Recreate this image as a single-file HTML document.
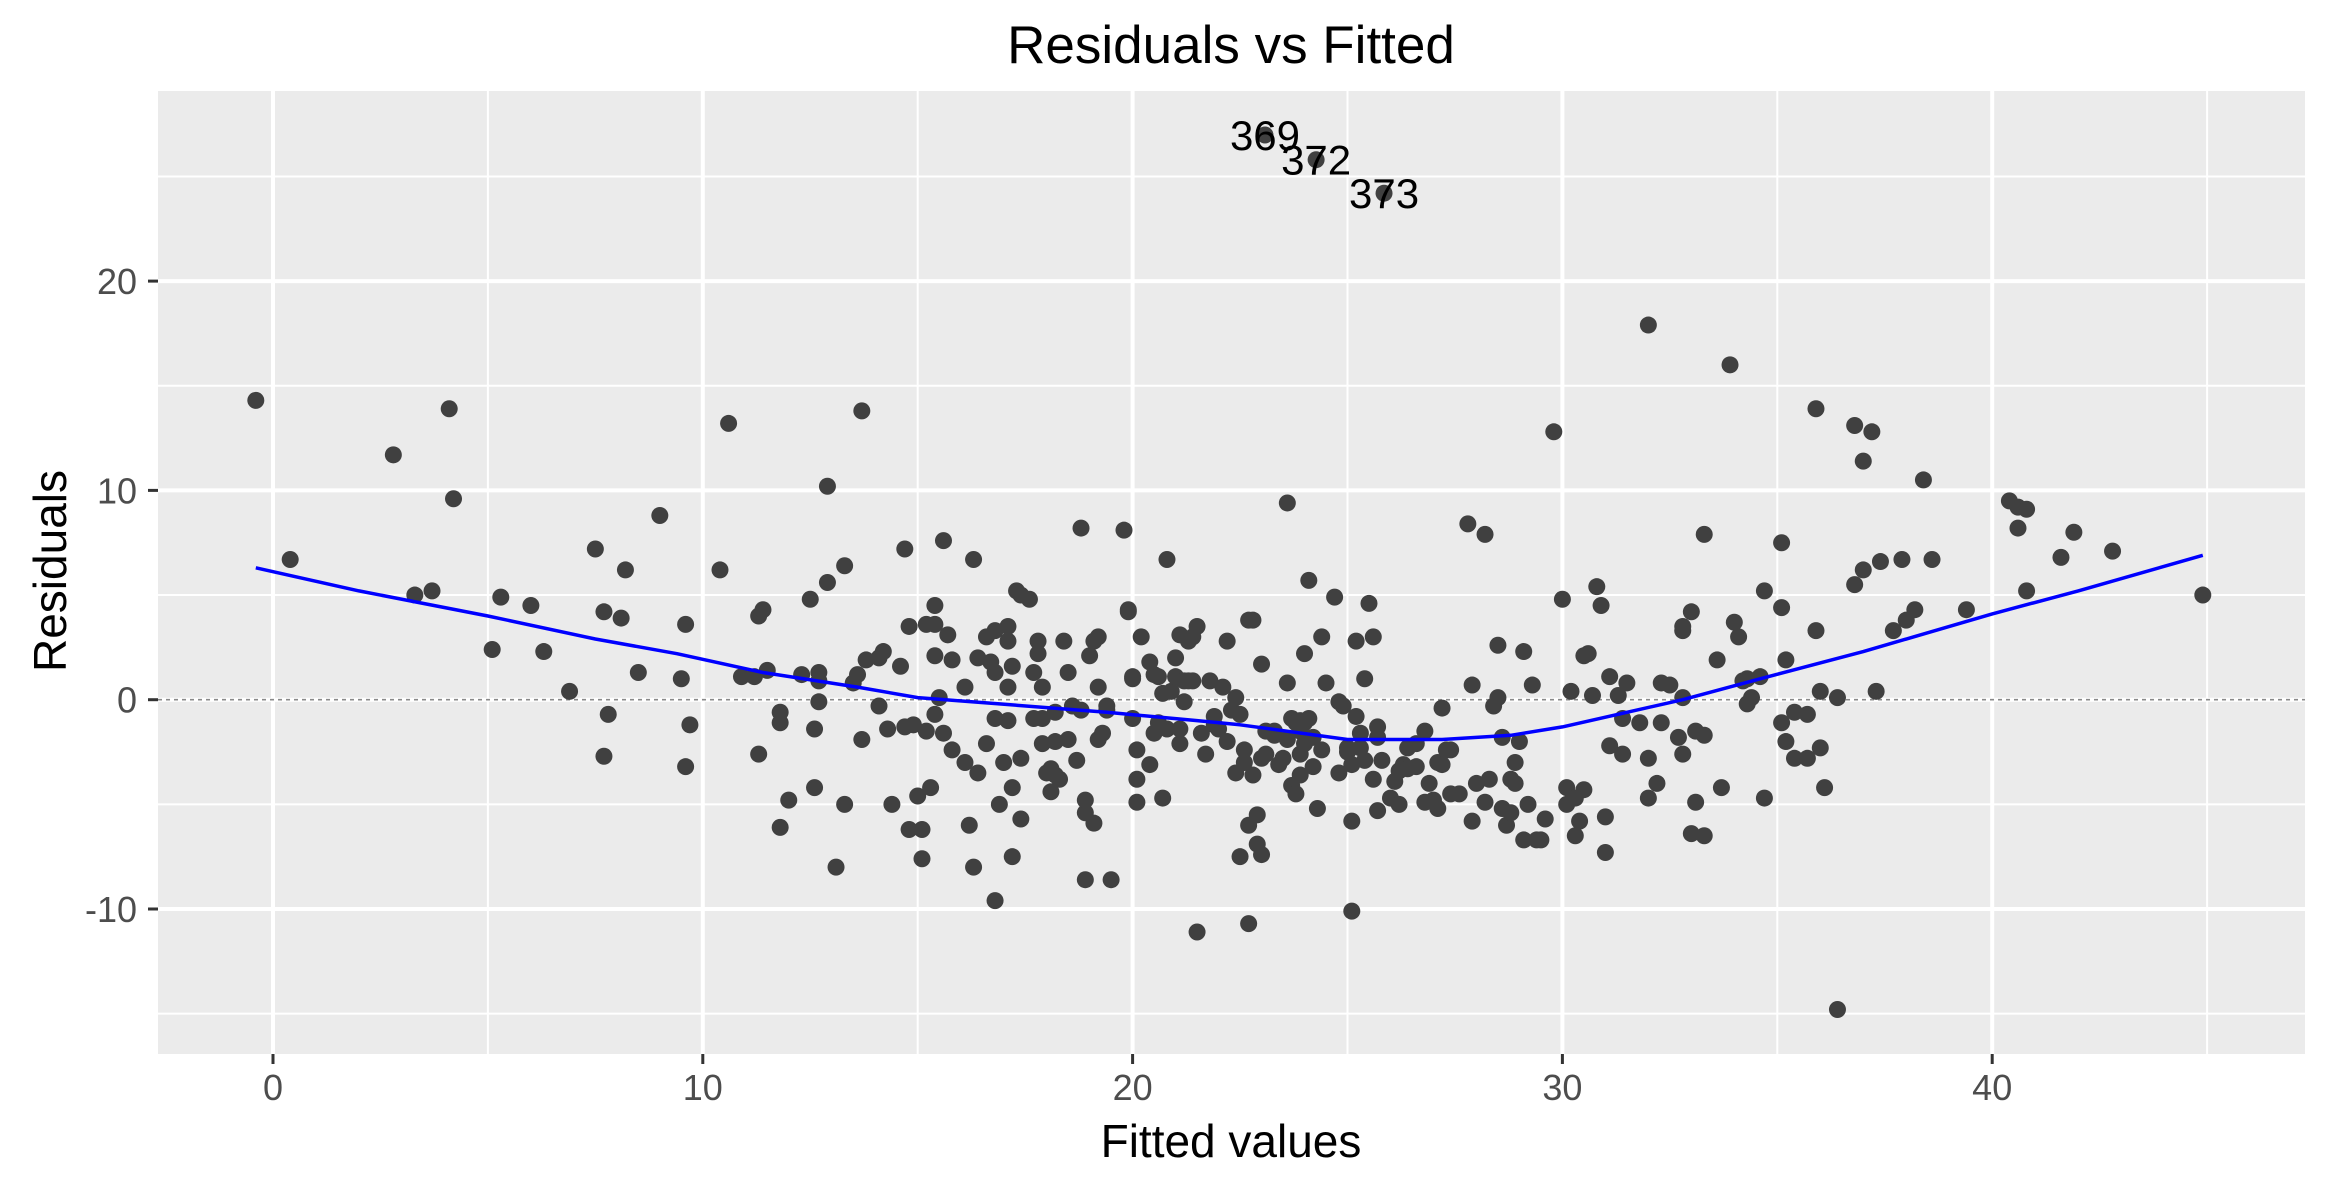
<!DOCTYPE html>
<html>
<head>
<meta charset="utf-8">
<style>
html,body{margin:0;padding:0;background:#fff;}
svg{display:block;font-family:"Liberation Sans",Arial,sans-serif;}
</style>
</head>
<body>
<svg id="chart" width="2328" height="1187" viewBox="0 0 2328 1187" xmlns="http://www.w3.org/2000/svg">
<rect x="0" y="0" width="2328" height="1187" fill="#ffffff"/>
<rect x="158" y="91" width="2147" height="963" fill="#EBEBEB"/>
<g id="grid"></g>
<g id="refline"></g>
<g id="points"></g>
<g id="smooth"></g>
<g id="labels"></g>
<g id="axes"></g>
<text x="1231" y="63" font-size="53" text-anchor="middle" fill="#000">Residuals vs Fitted</text>
<text x="1231" y="1157" font-size="46" text-anchor="middle" fill="#000">Fitted values</text>
<text x="0" y="0" font-size="46" text-anchor="middle" fill="#000" transform="translate(66,571) rotate(-90)">Residuals</text>
</svg>
<script>
// ---- data ----
const fittedX = [-0.4,0.4,2.8,3.3,3.7,4.1,4.2,5.1,5.3,6.0,6.3,6.9,7.5,7.7,7.8,7.7,8.1,8.2,8.5,9.0,9.5,9.6,9.6,9.7,10.4,10.6,10.9,11.2,11.3,11.4,11.5,11.3,11.8,11.8,11.8,12.0,12.3,12.5,12.6,12.6,12.7,12.7,12.7,12.9,12.9,13.1,13.3,13.3,13.5,13.6,13.7,13.7,13.8,14.1,14.1,14.2,14.3,14.4,14.6,14.7,14.7,14.8,14.8,14.9,15.0,15.1,15.1,15.2,15.4,15.2,15.3,15.4,15.4,15.4,15.5,15.6,15.6,15.7,15.8,15.8,16.1,16.1,16.2,16.3,16.3,16.4,16.4,16.6,16.6,16.7,16.8,16.8,16.8,16.8,16.9,17.0,17.1,17.1,17.1,17.1,17.2,17.2,17.2,17.3,17.4,17.4,17.4,17.6,17.7,17.7,17.8,17.8,17.9,17.9,17.9,18.0,18.1,18.1,18.2,18.2,18.2,18.3,18.4,18.5,18.5,18.6,18.7,18.8,18.8,18.9,18.9,18.9,19.0,19.1,19.1,19.2,19.2,19.2,19.3,19.4,19.4,19.5,19.8,19.9,19.9,20.0,20.0,20.0,20.1,20.1,20.1,20.2,20.4,20.4,20.5,20.5,20.6,20.6,20.7,20.7,20.8,20.8,20.9,21.0,21.0,21.1,21.1,21.1,21.2,21.2,21.3,21.3,21.4,21.4,21.5,21.6,21.5,21.7,21.8,21.9,21.9,22.0,22.1,22.2,22.2,22.3,22.4,22.4,22.5,22.5,22.6,22.6,22.7,22.7,22.7,22.8,22.8,22.9,22.9,23.0,23.0,23.0,23.1,23.1,23.6,23.3,23.3,23.4,23.5,23.6,23.6,23.7,23.7,23.8,23.8,23.9,23.9,23.9,23.9,24.0,24.0,24.0,24.1,24.1,24.2,24.2,24.3,24.4,24.4,24.5,24.7,24.8,24.8,24.9,25.0,25.0,25.1,25.1,25.1,25.2,25.2,25.3,25.3,25.4,25.4,25.5,25.6,25.6,25.7,25.7,25.7,25.8,26.0,26.1,26.2,26.2,26.3,26.4,26.4,26.6,26.6,26.8,26.8,26.9,27.0,27.1,27.1,27.2,27.2,27.3,27.4,27.4,27.6,27.8,28.2,27.9,27.9,28.0,28.2,28.3,28.4,28.5,28.5,28.6,28.6,28.7,28.8,28.8,28.9,28.9,29.0,29.1,29.1,29.2,29.3,29.4,29.5,29.6,29.8,30.0,30.1,30.1,30.2,30.3,30.3,30.4,30.5,30.5,30.6,30.7,30.8,30.9,31.0,31.0,31.1,31.1,31.3,31.4,31.4,31.5,31.8,32.0,32.0,32.0,32.2,32.3,32.3,32.5,32.7,32.8,32.8,32.8,32.8,33.0,33.0,33.1,33.1,33.3,33.3,33.3,33.6,33.7,33.9,34.0,34.1,34.2,34.3,34.3,34.4,34.6,34.7,34.7,35.1,35.1,35.1,35.2,35.2,35.4,35.4,35.7,35.7,35.9,35.9,36.0,36.0,36.1,36.4,36.8,36.8,37.0,37.0,37.2,37.3,37.4,37.7,38.0,38.4,38.2,40.4,40.6,40.8,40.6,40.8,41.6,41.9,42.8,44.9,36.4,39.4,37.9,38.6,23.08,24.27,25.85];
const residualY = [14.3,6.7,11.7,5.0,5.2,13.9,9.6,2.4,4.9,4.5,2.3,0.4,7.2,4.2,-0.7,-2.7,3.9,6.2,1.3,8.8,1.0,-3.2,3.6,-1.2,6.2,13.2,1.1,1.1,4.0,4.3,1.4,-2.6,-0.6,-1.1,-6.1,-4.8,1.2,4.8,-1.4,-4.2,0.9,1.3,-0.1,10.2,5.6,-8.0,-5.0,6.4,0.8,1.2,13.8,-1.9,1.9,2.0,-0.3,2.3,-1.4,-5.0,1.6,7.2,-1.3,-6.2,3.5,-1.2,-4.6,-6.2,-7.6,3.6,3.6,-1.5,-4.2,2.1,4.5,-0.7,0.1,7.6,-1.6,3.1,1.9,-2.4,0.6,-3.0,-6.0,6.7,-8.0,-3.5,2.0,-2.1,3.0,1.8,-9.6,1.3,-0.9,3.3,-5.0,-3.0,3.5,2.8,0.6,-1.0,1.6,-4.2,-7.5,5.2,-2.8,5.0,-5.7,4.8,-0.9,1.3,2.2,2.8,-2.1,0.6,-0.9,-3.5,-4.4,-3.3,-2.0,-0.6,-3.6,-3.8,2.8,-1.9,1.3,-0.3,-2.9,8.2,-0.5,-8.6,-5.4,-4.8,2.1,2.8,-5.9,-1.9,3.0,0.6,-1.6,-0.5,-0.3,-8.6,8.1,4.3,4.2,-0.9,1.0,1.1,-2.4,-3.8,-4.9,3.0,-3.1,1.8,1.2,-1.6,1.1,-1.1,-4.7,0.3,-1.4,6.7,0.4,2.0,1.1,-2.1,3.1,-1.4,0.9,-0.1,2.8,0.9,3.0,0.9,3.5,-1.6,-11.1,-2.6,0.9,-1.2,-0.8,-1.4,0.6,2.8,-2.0,-0.5,0.1,-3.5,-0.7,-7.5,-3.0,-2.4,-10.7,-6.0,3.8,3.8,-3.6,-5.5,-6.9,1.7,-2.8,-7.4,-2.6,-1.5,9.4,-1.5,-1.7,-3.1,-2.8,0.8,-1.9,-0.9,-4.1,-1.1,-4.5,-2.6,-1.0,-1.5,-3.6,-1.1,2.2,-2.1,-0.9,5.7,-1.8,-3.2,-5.2,-2.4,3.0,0.8,4.9,-3.5,-0.1,-0.3,-2.5,-2.3,-10.1,-5.8,-3.1,2.8,-0.8,-2.3,-1.6,1.0,-2.9,4.6,3.0,-3.8,-5.3,-1.8,-1.3,-2.9,-4.7,-3.9,-3.4,-5.0,-3.1,-3.3,-2.3,-2.1,-3.2,-1.5,-4.9,-4.0,-4.8,-5.2,-3.0,-0.4,-3.1,-2.4,-2.4,-4.5,-4.5,8.4,7.9,0.7,-5.8,-4.0,-4.9,-3.8,-0.3,0.1,2.6,-5.2,-1.8,-6.0,-5.4,-3.8,-3.0,-4.0,-2.0,2.3,-6.7,-5.0,0.7,-6.7,-6.7,-5.7,12.8,4.8,-5.0,-4.2,0.4,-6.5,-4.7,-5.8,-4.3,2.1,2.2,0.2,5.4,4.5,-5.6,-7.3,-2.2,1.1,0.2,-2.6,-0.9,0.8,-1.1,17.9,-2.8,-4.7,-4.0,0.8,-1.1,0.7,-1.8,0.1,3.3,-2.6,3.5,-6.4,4.2,-4.9,-1.5,7.9,-1.7,-6.5,1.9,-4.2,16.0,3.7,3.0,0.9,1.0,-0.2,0.1,1.1,5.2,-4.7,4.4,7.5,-1.1,-2.0,1.9,-0.6,-2.8,-0.7,-2.8,13.9,3.3,-2.3,0.4,-4.2,0.1,5.5,13.1,11.4,6.2,12.8,0.4,6.6,3.3,3.8,10.5,4.3,9.5,9.2,9.1,8.2,5.2,6.8,8.0,7.1,5.0,-14.8,4.3,6.7,6.7,26.98,25.8,24.2];
const smoothX = [-0.4,2,5,7.5,9.4,11.4,13.6,15,16.9,19.4,21.5,22.5,25,27.2,28.8,30,31.5,32.8,34.6,37,40,42,44.9];
const smoothY = [6.3,5.2,4.0,2.9,2.2,1.3,0.6,0.1,-0.2,-0.6,-1.0,-1.2,-1.9,-1.9,-1.7,-1.3,-0.6,0.0,1.0,2.3,4.1,5.2,6.9];
const labelText = ["369","372","373"];
const labelX = [23.08,24.27,25.85];
const labelY = [26.98,25.8,24.2];
const xTicks = [0,10,20,30,40];
const xMinor = [5,15,25,35,45];
const yTicks = [-10,0,10,20];
const yMinor = [-15,-5,5,15,25];

// ---- scales ----
const PL=158, PR=2305, PT=91, PB=1054;
function sx(v){ return 273 + v*42.98; }
function sy(v){ return 699.7 - v*20.93; }
const NS="http://www.w3.org/2000/svg";
function mk(tag, attrs, parent){
  const e=document.createElementNS(NS,tag);
  for(const k in attrs) e.setAttribute(k,attrs[k]);
  parent.appendChild(e); return e;
}
const grid=document.getElementById('grid');
xMinor.forEach(v=>{ const x=sx(v); if(x>PL&&x<PR){
  const l=mk('line',{x1:x,x2:x,y1:PT,y2:PB,stroke:'#fff','stroke-width':2},grid);
  
  
}});
yMinor.forEach(v=>{ const y=sy(v); if(y>PT&&y<PB){
  const l=mk('line',{x1:PL,x2:PR,y1:y,y2:y,stroke:'#fff','stroke-width':2},grid);
  
  
}});
xTicks.forEach(v=>{ const x=sx(v);
  const l=mk('line',{x1:x,x2:x,y1:PT,y2:PB,stroke:'#fff','stroke-width':4},grid);
  
  
});
yTicks.forEach(v=>{ const y=sy(v);
  const l=mk('line',{x1:PL,x2:PR,y1:y,y2:y,stroke:'#fff','stroke-width':4},grid);
  
  
});
const ref=document.getElementById('refline');
const rl=mk('line',{x1:PL,x2:PR,y1:sy(0),y2:sy(0),stroke:'#8a8a8a','stroke-width':1.6,'stroke-dasharray':'4,4'},ref);



const pts=document.getElementById('points');
for(let i=0;i<fittedX.length;i++){
  const c=mk('circle',{cx:sx(fittedX[i]),cy:sy(residualY[i]),r:8.5,fill:'#404040'},pts);
  
  
}
const sm=document.getElementById('smooth');
let d='';
for(let i=0;i<smoothX.length;i++){ d+=(i?'L':'M')+sx(smoothX[i]).toFixed(1)+','+sy(smoothY[i]).toFixed(1); }
const path=mk('path',{d:d,fill:'none',stroke:'#0000FF','stroke-width':3.5,'stroke-linejoin':'round'},sm);



const lab=document.getElementById('labels');
for(let i=0;i<labelText.length;i++){
  const t=mk('text',{x:sx(labelX[i]),y:sy(labelY[i])+15,'font-size':42,'text-anchor':'middle',fill:'#000'},lab);
  t.textContent=labelText[i];
  
  
}
const ax=document.getElementById('axes');
xTicks.forEach(v=>{ const x=sx(v);
  const tk=mk('line',{x1:x,x2:x,y1:PB,y2:PB+10,stroke:'#333','stroke-width':3},ax);
  
  
  const t=mk('text',{x:x,y:1100,'font-size':36,'text-anchor':'middle',fill:'#4D4D4D'},ax);
  t.textContent=String(v);
  
  
});
yTicks.forEach(v=>{ const y=sy(v);
  const tk=mk('line',{x1:PL-10,x2:PL,y1:y,y2:y,stroke:'#333','stroke-width':3},ax);
  
  
  const t=mk('text',{x:137,y:y+13,'font-size':36,'text-anchor':'end',fill:'#4D4D4D'},ax);
  t.textContent=String(v);
  
  
});
</script>
</body>
</html>
